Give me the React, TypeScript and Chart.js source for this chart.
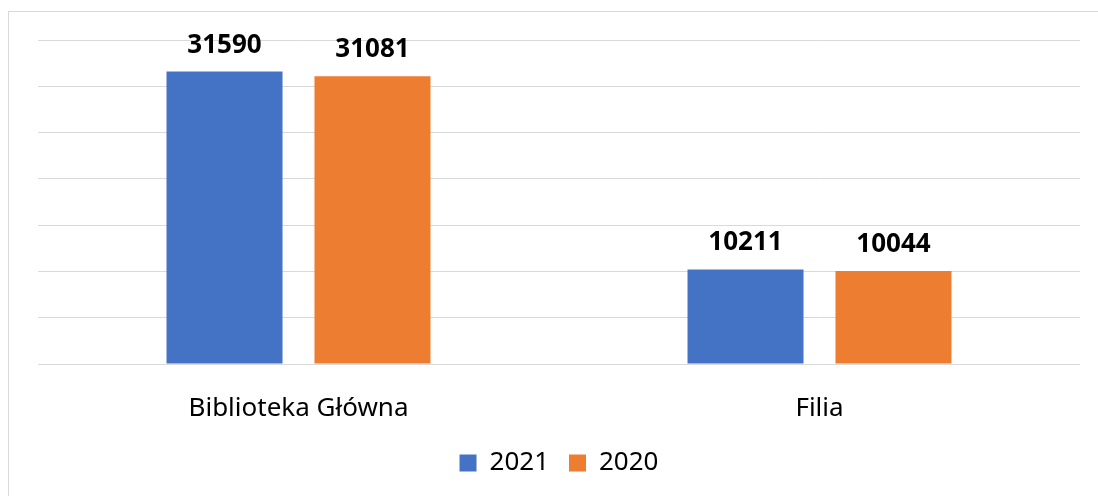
import React, { useEffect, useRef } from "react";
import { Chart, registerables } from "chart.js";

Chart.register(...registerables);

const categories = ["Biblioteka Główna", "Filia"];
const seriesLabels = ["2021", "2020"];
const values2021 = [31590, 10211];
const values2020 = [31081, 10044];
const seriesColors = ["#4472C4", "#ED7D31"];
const yMax = 35000;
const yStep = 5000;

const FONT = "'Noto Sans', 'Open Sans', sans-serif";

const valueLabels = {
  id: "valueLabels",
  afterDatasetsDraw(chart: any) {
    const ctx = chart.ctx;
    ctx.save();
    ctx.font = `bold 26px ${FONT}`;
    ctx.fillStyle = "#000000";
    ctx.textAlign = "center";
    ctx.textBaseline = "alphabetic";
    chart.data.datasets.forEach((ds: any, di: number) => {
      const meta = chart.getDatasetMeta(di);
      meta.data.forEach((bar: any, i: number) => {
        ctx.fillText(String(ds.data[i]), bar.x, bar.y - 19);
      });
    });
    ctx.restore();
  },
};

export default function App() {
  const ref = useRef<HTMLCanvasElement | null>(null);
  useEffect(() => {
    if (!ref.current) return;
    const chart = new Chart(ref.current, {
      type: "bar",
      data: {
        labels: categories,
        datasets: [
          { label: seriesLabels[0], data: values2021, backgroundColor: seriesColors[0] },
          { label: seriesLabels[1], data: values2020, backgroundColor: seriesColors[1] },
        ],
      },
      options: {
        responsive: false,
        animation: false,
        layout: { padding: { left: 38, right: 18, top: 40, bottom: 10 } },
        datasets: {
          bar: { categoryPercentage: 0.568, barPercentage: 0.784 },
        },
        scales: {
          x: {
            grid: { display: false, drawTicks: false },
            border: { display: false },
            ticks: { color: "#000000", font: { family: FONT, size: 26 }, padding: 29 },
            afterFit: (scale: any) => {
              scale.height = 66;
            },
          },
          y: {
            min: 0,
            max: yMax,
            ticks: { display: false, stepSize: yStep },
            grid: { color: "#d9d9d9", lineWidth: 1, drawTicks: false },
            border: { display: false },
          },
        },
        plugins: {
          legend: {
            position: "bottom",
            labels: {
              color: "#000000",
              font: { family: FONT, size: 26 },
              boxWidth: 17,
              boxHeight: 17,
              padding: 20,
            },
          },
          tooltip: { enabled: false },
        },
      },
      plugins: [valueLabels],
    });
    return () => chart.destroy();
  }, []);

  return (
    <div style={{ position: "fixed", left: 0, top: 0, width: 1098, height: 496, overflow: "hidden", background: "#fff" }}>
      <div
        style={{
          position: "absolute",
          left: 8,
          top: 11,
          width: 1200,
          height: 600,
          border: "1px solid #d9d9d9",
          boxSizing: "border-box",
        }}
      />
      <canvas ref={ref} width={1098} height={496} style={{ position: "absolute", left: 0, top: 0 }} />
    </div>
  );
}
